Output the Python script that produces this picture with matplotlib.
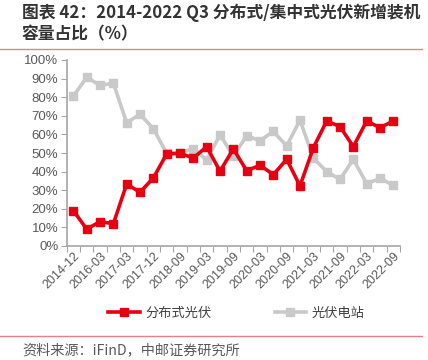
import matplotlib.pyplot as plt
import matplotlib.ticker as ticker
from matplotlib.lines import Line2D

plt.rcParams['font.family'] = ['Liberation Sans', 'Noto Sans CJK SC', 'DejaVu Sans']

# Quarterly categories (only every second one is labelled on the chart)
categories = ['2014-12', '2015-12', '2016-03', '2016-12', '2017-03', '2017-09',
              '2017-12', '2018-06', '2018-09', '2018-12', '2019-03', '2019-06',
              '2019-09', '2019-12', '2020-03', '2020-06', '2020-09', '2020-12',
              '2021-03', '2021-06', '2021-09', '2021-12', '2022-03', '2022-06',
              '2022-09']

# Share of new installs, %
distributed = [19.0, 9.1, 13.1, 12.0, 33.3, 28.9, 36.6, 49.5, 49.8, 47.3, 53.4, 40.2,
               52.2, 40.5, 43.4, 38.4, 46.6, 32.3, 52.8, 67.2, 64.2, 53.4, 67.2, 63.6,
               67.2]
utility = [80.6, 90.7, 86.4, 87.5, 66.3, 70.8, 63.1, 49.8, 50.2, 52.3, 46.2, 59.8,
           48.4, 59.3, 56.6, 61.6, 53.8, 67.7, 47.3, 40.0, 35.8, 46.6, 33.5, 36.3,
           32.7]

series_names = ['分布式光伏', '光伏电站']
red = '#E60012'
grey = '#C9C9C9'
axis_grey = '#A6A6A6'
text_grey = '#595959'
cjk = ['Noto Sans CJK SC', 'DejaVu Sans']

fig = plt.figure(figsize=(4.28, 3.6), dpi=100)
ax = fig.add_axes([66.7 / 428, 1 - 246 / 360, (400 - 66.7) / 428, (246 - 60) / 360])

x = list(range(len(categories)))
ax.plot(x, utility, color=grey, lw=2.6, marker='s', ms=5.5, zorder=2)
ax.plot(x, distributed, color=red, lw=2.6, marker='s', ms=5.5, zorder=3)

ax.set_xlim(-0.5, len(categories) - 0.5)
ax.set_ylim(0, 100)

# category boundaries get the tick marks, every second category gets a label
ax.xaxis.set_major_locator(ticker.FixedLocator([i - 0.5 for i in range(len(categories) + 1)]))
ax.xaxis.set_major_formatter(ticker.NullFormatter())
ax.xaxis.set_minor_locator(ticker.FixedLocator(x[::2]))
ax.xaxis.set_minor_formatter(ticker.FixedFormatter(categories[::2]))
ax.tick_params(axis='x', which='major', length=4, color=axis_grey, direction='out')
ax.tick_params(axis='x', which='minor', length=0, labelsize=9, labelcolor=text_grey, pad=3)
for lab in ax.get_xticklabels(minor=True):
    lab.set_rotation(45)
    lab.set_ha('right')
    lab.set_va('top')
    lab.set_rotation_mode('anchor')

ax.yaxis.set_major_locator(ticker.MultipleLocator(10))
ax.yaxis.set_major_formatter(ticker.FuncFormatter(lambda v, p: f'{v:.0f}%'))
ax.tick_params(axis='y', length=4, color=axis_grey, labelsize=9.5, labelcolor=text_grey, pad=2)

for side in ['top', 'right']:
    ax.spines[side].set_visible(False)
for side in ['left', 'bottom']:
    ax.spines[side].set_color(axis_grey)
    ax.spines[side].set_linewidth(1.2)

handles = [Line2D([], [], color=red, lw=2.6, marker='s', ms=5.5),
           Line2D([], [], color=grey, lw=2.6, marker='s', ms=5.5)]
fig.legend(handles, series_names, loc='center', bbox_to_anchor=(0.552, 1 - 313 / 360),
           ncol=2, frameon=False, prop={'family': cjk, 'size': 9.5},
           handlelength=2.4, columnspacing=4.8, handletextpad=0.4, labelcolor='#404040')

# title, rules and source note
fig.text(22 / 428, 1 - 13 / 360, '图表 42：2014-2022 Q3 分布式/集中式光伏新增装机',
         family=cjk, fontsize=12.1, fontweight='bold', color='#333333', va='center')
fig.text(22 / 428, 1 - 34 / 360, '容量占比（%）',
         family=cjk, fontsize=12.1, fontweight='bold', color='#333333', va='center')
fig.add_artist(Line2D([0, 422 / 428], [1 - 49 / 360] * 2, color='#E8808A', lw=1))
fig.add_artist(Line2D([0, 422 / 428], [1 - 336 / 360] * 2, color='#E8808A', lw=1))
fig.text(22 / 428, 1 - 350 / 360, '资料来源：iFinD，中邮证券研究所',
         family=cjk, fontsize=10.2, color=text_grey, va='center')

fig.savefig('out.png', dpi=100)
